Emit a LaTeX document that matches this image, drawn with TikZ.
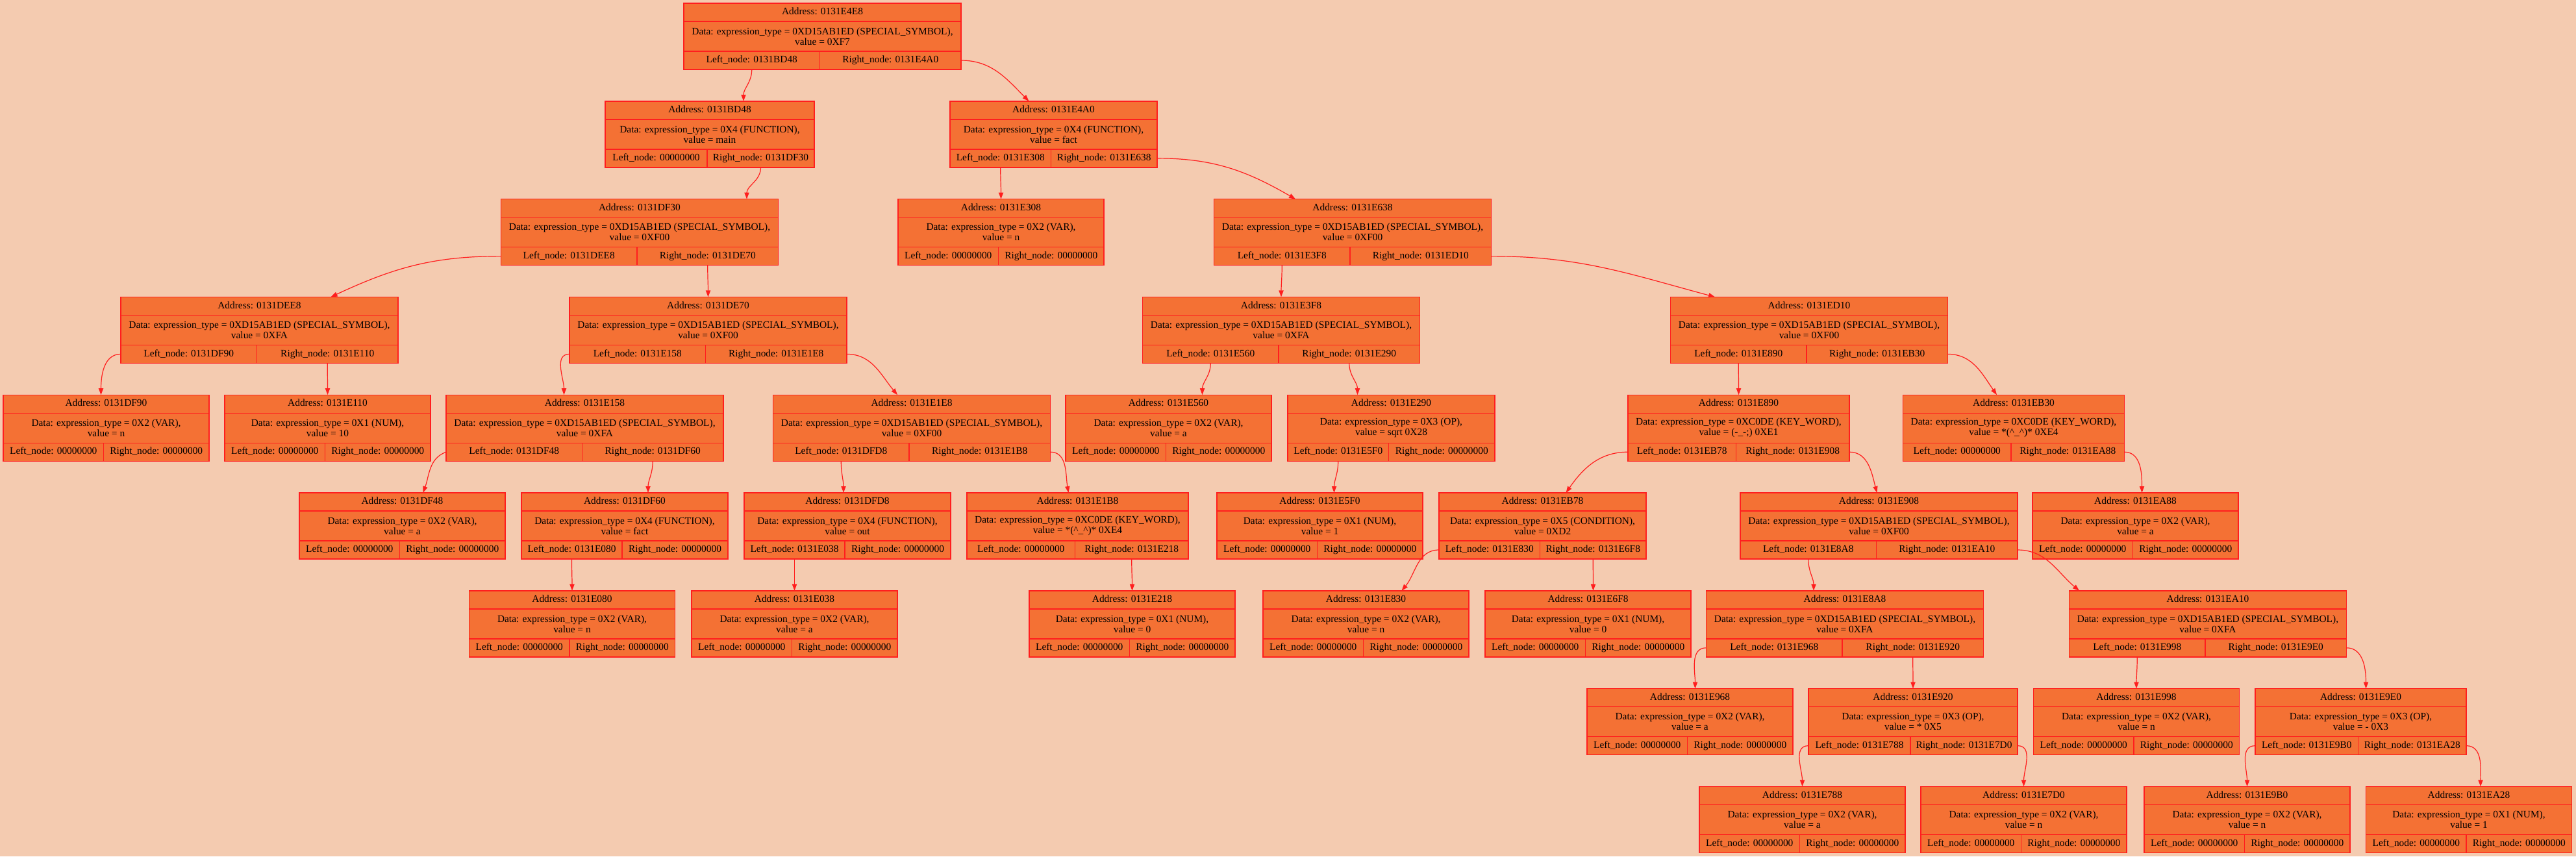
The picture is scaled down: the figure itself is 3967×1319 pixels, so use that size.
\documentclass[tikz,border=0pt]{standalone}
\usepackage{fontspec}
\setmainfont{Liberation Serif}
\usetikzlibrary{arrows.meta}
\definecolor{pagebg}{HTML}{F4CBB0}
\definecolor{boxfill}{HTML}{F47134}
\definecolor{boxline}{HTML}{FF1E1E}
\tikzset{
rec/.style=
    {draw=boxline,
    fill=boxfill,
    line width=0.7pt,
    inner sep=0pt,
    outer sep=0pt
    },
cell/.style=
    {rec,
    minimum height=14pt,
    text height=5.3pt,
    text depth=1.7pt
    },
datacell/.style=
    {rec,
    minimum height=23pt,
    align=center
    },
link/.style=
    {draw=boxline,
    line width=0.6pt,
    out=-90, in=90,
    -{Triangle[length=5pt,width=3.6pt]}
    }}
\newcommand{\tSpec}{0XD15AB1ED (SPECIAL\_SYMBOL)}
\newcommand{\tFunc}{0X4 (FUNCTION)}
\newcommand{\tVar}{0X2 (VAR)}
\newcommand{\tNum}{0X1 (NUM)}
\newcommand{\tOp}{0X3 (OP)}
\newcommand{\tKey}{0XC0DE (KEY\_WORD)}
\newcommand{\tCond}{0X5 (CONDITION)}
\newcommand{\nullp}{00000000}
\newcommand{\crt}{\textasciicircum}
% one record: name, centre x, level, width, type, value, left, right
\newcommand{\astnode}[8]{%
  \node[cell, minimum width={#4*0.5pt}, anchor=north] (#1) at (#2,{5+150.8*#3}) {Address: 0131#1};
  \node[datacell, minimum width={#4*0.5pt}, anchor=north] (#1-d) at (#1.south) {Data: expression\_type = #5,\\value = #6};
  \node[cell, minimum width={(#4/2-4)*0.5pt}, anchor=north west] (#1-l) at (#1-d.south west) {Left\_node: #7};
  \node[cell, minimum width={(#4/2+4)*0.5pt}, anchor=north east] (#1-r) at (#1-d.south east) {Right\_node: #8};
}

\begin{document}
\begin{tikzpicture}[x=0.5pt,y=-0.5pt,font=\fontsize{7.7}{8}\selectfont]
\fill[pagebg] (0,0) rectangle (3967,1319);

\astnode{E4E8}{1266.5}{0}{427}{\tSpec}{0XF7}{0131BD48}{0131E4A0}
\astnode{BD48}{1093}{1}{322}{\tFunc}{main}{\nullp}{0131DF30}
\astnode{E4A0}{1622.5}{1}{319}{\tFunc}{fact}{0131E308}{0131E638}
\astnode{DF30}{985}{2}{427}{\tSpec}{0XF00}{0131DEE8}{0131DE70}
\astnode{E308}{1541.5}{2}{317}{\tVar}{n}{\nullp}{\nullp}
\astnode{E638}{2083}{2}{427}{\tSpec}{0XF00}{0131E3F8}{0131ED10}
\astnode{DEE8}{399.5}{3}{427}{\tSpec}{0XFA}{0131DF90}{0131E110}
\astnode{DE70}{1090.5}{3}{427}{\tSpec}{0XF00}{0131E158}{0131E1E8}
\astnode{E3F8}{1973}{3}{427}{\tSpec}{0XFA}{0131E560}{0131E290}
\astnode{ED10}{2786}{3}{427}{\tSpec}{0XF00}{0131E890}{0131EB30}
\astnode{DF90}{163.5}{4}{317}{\tVar}{n}{\nullp}{\nullp}
\astnode{E110}{504.5}{4}{317}{\tNum}{10}{\nullp}{\nullp}
\astnode{E158}{900.5}{4}{427}{\tSpec}{0XFA}{0131DF48}{0131DF60}
\astnode{E1E8}{1404}{4}{427}{\tSpec}{0XF00}{0131DFD8}{0131E1B8}
\astnode{E560}{1799.5}{4}{317}{\tVar}{a}{\nullp}{\nullp}
\astnode{E290}{2142.5}{4}{319}{\tOp}{sqrt 0X28}{0131E5F0}{\nullp}
\astnode{E890}{2677.5}{4}{341}{\tKey}{(-\_-;) 0XE1}{0131EB78}{0131E908}
\astnode{EB30}{3101}{4}{341}{\tKey}{*(\crt\_\crt)* 0XE4}{\nullp}{0131EA88}
\astnode{DF48}{619.5}{5}{317}{\tVar}{a}{\nullp}{\nullp}
\astnode{DF60}{962}{5}{318}{\tFunc}{fact}{0131E080}{\nullp}
\astnode{DFD8}{1305}{5}{318}{\tFunc}{out}{0131E038}{\nullp}
\astnode{E1B8}{1659.5}{5}{341}{\tKey}{*(\crt\_\crt)* 0XE4}{\nullp}{0131E218}
\astnode{E5F0}{2032.5}{5}{317}{\tNum}{1}{\nullp}{\nullp}
\astnode{EB78}{2375.5}{5}{319}{\tCond}{0XD2}{0131E830}{0131E6F8}
\astnode{E908}{2893.5}{5}{427}{\tSpec}{0XF00}{0131E8A8}{0131EA10}
\astnode{EA88}{3288.5}{5}{317}{\tVar}{a}{\nullp}{\nullp}
\astnode{E080}{881}{6}{317}{\tVar}{n}{\nullp}{\nullp}
\astnode{E038}{1223.5}{6}{317}{\tVar}{a}{\nullp}{\nullp}
\astnode{E218}{1743.5}{6}{317}{\tNum}{0}{\nullp}{\nullp}
\astnode{E830}{2103.5}{6}{317}{\tVar}{n}{\nullp}{\nullp}
\astnode{E6F8}{2445.5}{6}{317}{\tNum}{0}{\nullp}{\nullp}
\astnode{E8A8}{2841}{6}{427}{\tSpec}{0XFA}{0131E968}{0131E920}
\astnode{EA10}{3400}{6}{427}{\tSpec}{0XFA}{0131E998}{0131E9E0}
\astnode{E968}{2602.5}{7}{317}{\tVar}{a}{\nullp}{\nullp}
\astnode{E920}{2946}{7}{322}{\tOp}{* 0X5}{0131E788}{0131E7D0}
\astnode{E998}{3290}{7}{317}{\tVar}{n}{\nullp}{\nullp}
\astnode{E9E0}{3635.5}{7}{325}{\tOp}{- 0X3}{0131E9B0}{0131EA28}
\astnode{E788}{2775.5}{8}{317}{\tVar}{a}{\nullp}{\nullp}
\astnode{E7D0}{3116.5}{8}{317}{\tVar}{n}{\nullp}{\nullp}
\astnode{E9B0}{3460.5}{8}{317}{\tVar}{n}{\nullp}{\nullp}
\astnode{EA28}{3802}{8}{317}{\tNum}{1}{\nullp}{\nullp}

% pointers
\draw[link] (E4E8-l.south) to ([xshift=26pt]BD48.north);
\draw[link] (E4E8-r.east) to[out=0,in=135] ([xshift=-19pt]E4A0.north);
\draw[link] (BD48-r.south) to ([xshift=82.5pt]DF30.north);
\draw[link] (E4A0-l.south) to (E308.north);
\draw[link] (E4A0-r.east) to[out=0,in=150] ([xshift=-44pt]E638.north);
\draw[link] (DF30-l.west) to[out=180,in=25] ([xshift=55pt]DEE8.north);
\draw[link] (DF30-r.south) to (DE70.north);
\draw[link] (E638-l.south) to (E3F8.north);
\draw[link] (E638-r.east) to[out=0,in=165] ([xshift=-72.5pt]ED10.north);
\draw[link] (DEE8-l.west) to[out=180,in=90] ([xshift=-4pt]DF90.north);
\draw[link] (DEE8-r.south) to (E110.north);
\draw[link] (DE70-l.west) to[out=180,in=90] ([xshift=-16pt]E158.north);
\draw[link] (DE70-r.east) to[out=0,in=130] ([xshift=-11pt]E1E8.north);
\draw[link] (E158-l.west) to[out=200,in=70] ([xshift=16pt]DF48.north);
\draw[link] (E158-r.south) to ([xshift=18pt]DF60.north);
\draw[link] (E1E8-l.south) to ([xshift=-3pt]DFD8.north);
\draw[link] (E1E8-r.east) to[out=0,in=100] ([xshift=-7pt]E1B8.north);
\draw[link] (E3F8-l.south) to ([xshift=26pt]E560.north);
\draw[link] (E3F8-r.south) to ([xshift=-26pt]E290.north);
\draw[link] (ED10-l.south) to (E890.north);
\draw[link] (ED10-r.east) to[out=0,in=125] ([xshift=-13pt]EB30.north);
\draw[link] (DF60-l.south) to (E080.north);
\draw[link] (DFD8-l.south) to (E038.north);
\draw[link] (E1B8-r.south) to (E218.north);
\draw[link] (E290-l.south) to ([xshift=11pt]E5F0.north);
\draw[link] (E890-l.west) to[out=180,in=55] ([xshift=18pt]EB78.north);
\draw[link] (E890-r.east) to[out=0,in=105] ([xshift=-1.5pt]E908.north);
\draw[link] (EB30-r.east) to[out=0,in=90] ([xshift=5pt]EA88.north);
\draw[link] (EB78-l.west) to[out=180,in=50] ([xshift=27.5pt]E830.north);
\draw[link] (EB78-r.south) to ([xshift=4pt]E6F8.north);
\draw[link] (E908-l.south) to ([xshift=-24pt]E8A8.north);
\draw[link] (E908-r.east) to[out=0,in=140] ([xshift=-99pt]EA10.north);
\draw[link] (E8A8-l.west) to[out=180,in=90] ([xshift=4pt]E968.north);
\draw[link] (E8A8-r.south) to (E920.north);
\draw[link] (EA10-l.south) to (E998.north);
\draw[link] (EA10-r.east) to[out=0,in=90] ([xshift=4pt]E9E0.north);
\draw[link] (E920-l.west) to[out=180,in=90] (E788.north);
\draw[link] (E920-r.east) to[out=0,in=90] (E7D0.north);
\draw[link] (E9E0-l.west) to[out=180,in=90] (E9B0.north);
\draw[link] (E9E0-r.east) to[out=0,in=90] ([xshift=9pt]EA28.north);

\end{tikzpicture}
\end{document}
